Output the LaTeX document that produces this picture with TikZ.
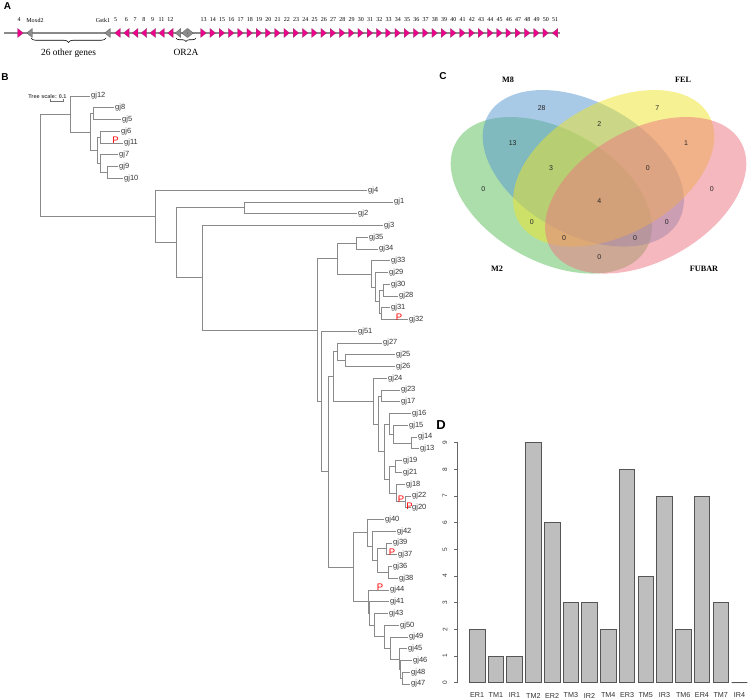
\documentclass[tikz,border=0pt]{standalone}
\usepackage{fontspec}
\setmainfont{Liberation Serif}
\setsansfont{Liberation Sans}
\usetikzlibrary{calc,decorations.pathreplacing}
\definecolor{brgrey}{HTML}{8A8A8A}
\definecolor{labgrey}{HTML}{333333}
\definecolor{vblue}{RGB}{85,151,209}
\definecolor{vyellow}{RGB}{238,228,40}
\definecolor{vgreen}{RGB}{90,190,90}
\definecolor{vpink}{RGB}{238,115,128}
\definecolor{barfill}{HTML}{BEBEBE}
\definecolor{bardraw}{HTML}{555555}
\newcommand\fsz[1]{\fontsize{#1}{#1}\selectfont}
\newcommand\tn[4]{%
  \path (#3.center) -- (#4.center) coordinate[pos=0.5] (#1h);
  \coordinate (#1x) at (#2,0);
  \coordinate (#1) at (#1h -| #1x);
  \draw[br] (#3) -- (#3 -| #1) -- (#4 -| #1) -- (#4);}
\newcommand\lf[3]{\node[leaf] (#1) at (#2,{96+11.76*#3}) {#1};}
\newcommand\trR[2]{\filldraw[#2] (#1-2.8,28.5) -- (#1+2.8,33) -- (#1-2.8,37.5) -- cycle;}
\newcommand\trL[2]{\filldraw[#2] (#1+2.8,28.5) -- (#1-2.8,33) -- (#1+2.8,37.5) -- cycle;}
\begin{document}
\begin{tikzpicture}[x=1pt,y=-1pt,
  br/.style={draw=brgrey,line width=0.6pt},
  leaf/.style={anchor=west,inner sep=1pt,font=\sffamily\fsz{7.5},text=labgrey},
  pm/.style={text=red,font=\sffamily\fsz{9.5},inner sep=0pt},
  plab/.style={font=\sffamily\bfseries\fsz{10},inner sep=0pt},
  gl/.style={font=\fsz{6},inner sep=0pt},
  mag/.style={fill=magenta,draw=magenta!55!black,line width=0.3pt},
  gry/.style={fill=black!45,draw=black!65,line width=0.3pt},
  vlab/.style={font=\bfseries\fsz{8.2},inner sep=0pt},
  vn/.style={font=\sffamily\fsz{7},text=black!85,inner sep=0pt},
  barst/.style={fill=barfill,draw=bardraw,line width=0.7pt},
  ax/.style={draw=black!60,line width=0.6pt},
  yl/.style={font=\sffamily\fsz{6.5},text=labgrey,inner sep=0pt},
  bl/.style={font=\sffamily\fsz{7.2},text=labgrey,inner sep=0pt}]
\fill[white] (0,0) rectangle (748,700);
\useasboundingbox (0,0) rectangle (748,700);

% ---------------- Panel A ----------------
\node[plab] (labA) at (7.5,6.5) {A};
\draw[draw=brgrey,line width=1.2pt] (4,33) -- (560,33);
\trR{20.5}{mag}
\trL{29.5}{gry}
\trL{107.5}{gry}
\foreach \c in {117.5,126.3,135.1,143.9,152.7,161.5,170.3} {\trL{\c}{mag}}
\trL{178}{gry}
\trL{184.5}{gry}
\trR{190.5}{gry}
\foreach \n in {13,...,50} {
  \pgfmathsetmacro\cx{203.5+9.25*(\n-13)}
  \trR{\cx}{mag}
  \node[gl] (g\n) at (\cx,20) {\n};
}
\trL{555}{mag}
\node[gl] (g51) at (555,20) {51};
\node[gl] (g4) at (19,20) {4};
\node[gl] (gmox) at (35,20) {Moxd2};
\node[gl] (ggst) at (103,20) {Gstk1};
\node[gl] (g5) at (115.5,20) {5};
\node[gl] (g6) at (126.3,20) {6};
\node[gl] (g7) at (135.1,20) {7};
\node[gl] (g8) at (143.9,20) {8};
\node[gl] (g9) at (152.7,20) {9};
\node[gl] (g11) at (161.5,20) {11};
\node[gl] (g12) at (170.3,20) {12};
\draw[decorate,decoration={brace,mirror,amplitude=4.5pt},line width=0.6pt] (31,38) -- (106,38);
\node[font=\fsz{9.4},inner sep=0pt] (other) at (68.5,53) {26 other genes};
\draw[decorate,decoration={brace,mirror,amplitude=3.5pt},line width=0.6pt] (176,38) -- (196,38);
\node[font=\fsz{9.5},inner sep=0pt] (or2a) at (186,52) {OR2A};

% ---------------- Panel B ----------------
\node[plab] (labB) at (5,77) {B};
\node[font=\sffamily\bfseries\fsz{5.5},text=black!70,inner sep=0pt] (tscale) at (47.5,96.5) {Tree scale: 0.1};
\draw[draw=black!55,line width=0.5pt] (50,99.5) -- (50,101) -- (63,101) -- (63,99.5);

\lf{gj12}{90}{0}
\lf{gj8}{114}{1}
\lf{gj5}{121}{2}
\lf{gj6}{120}{3}
\lf{gj11}{123}{4}
\lf{gj7}{118}{5}
\lf{gj9}{118}{6}
\lf{gj10}{123}{7}
\lf{gj4}{367}{8}
\lf{gj1}{393}{9}
\lf{gj2}{357}{10}
\lf{gj3}{383}{11}
\lf{gj35}{368}{12}
\lf{gj34}{378}{13}
\lf{gj33}{390}{14}
\lf{gj29}{388}{15}
\lf{gj30}{390}{16}
\lf{gj28}{398}{17}
\lf{gj31}{390}{18}
\lf{gj32}{408}{19}
\lf{gj51}{357}{20}
\lf{gj27}{382}{21}
\lf{gj25}{395}{22}
\lf{gj26}{395}{23}
\lf{gj24}{387}{24}
\lf{gj23}{400}{25}
\lf{gj17}{400}{26}
\lf{gj16}{411}{27}
\lf{gj15}{408}{28}
\lf{gj14}{417}{29}
\lf{gj13}{419}{30}
\lf{gj19}{402}{31}
\lf{gj21}{402}{32}
\lf{gj18}{405}{33}
\lf{gj22}{411}{34}
\lf{gj20}{411}{35}
\lf{gj40}{384}{36}
\lf{gj42}{396}{37}
\lf{gj39}{392}{38}
\lf{gj37}{397}{39}
\lf{gj36}{392}{40}
\lf{gj38}{398}{41}
\lf{gj44}{389}{42}
\lf{gj41}{389}{43}
\lf{gj43}{388}{44}
\lf{gj50}{399}{45}
\lf{gj49}{408}{46}
\lf{gj45}{407}{47}
\lf{gj46}{412}{48}
\lf{gj48}{410}{49}
\lf{gj47}{410}{50}

\tn{A2}{93}{gj8}{gj5}
\tn{A4}{100}{gj6}{gj11}
\tn{A6}{107}{gj9}{gj10}
\tn{A5}{100}{gj7}{A6}
\tn{A3}{97}{A4}{A5}
\tn{A1}{90}{A2}{A3}
\tn{TA}{70}{gj12}{A1}
\tn{D1}{244}{gj1}{gj2}
\tn{G1}{356}{gj35}{gj34}
\tn{G5}{383}{gj30}{gj28}
\tn{G6}{381}{gj31}{gj32}
\tn{G4}{379}{G5}{G6}
\tn{G3}{375}{gj29}{G4}
\tn{G2}{371}{gj33}{G3}
\tn{G0}{337}{G1}{G2}
\tn{J2}{345}{gj25}{gj26}
\tn{J1}{337}{gj27}{J2}
\tn{J5}{381}{gj23}{gj17}
\tn{J10}{411}{gj14}{gj13}
\tn{J8}{393}{gj15}{J10}
\tn{J7}{389}{gj16}{J8}
\tn{J11}{395}{gj19}{gj21}
\tn{J13}{405}{gj22}{gj20}
\tn{J12}{396}{gj18}{J13}
\tn{J9}{389}{J11}{J12}
\tn{J6}{384}{J7}{J9}
\tn{J4}{378}{J5}{J6}
\tn{J3}{373}{gj24}{J4}
\tn{J0}{333}{J1}{J3}
\tn{L3}{386}{gj39}{gj37}
\tn{L4}{388}{gj36}{gj38}
\tn{L2}{377}{L3}{L4}
\tn{L1}{372}{gj42}{L2}
\tn{L0}{367}{gj40}{L1}
\tn{M7}{402}{gj48}{gj47}
\tn{M6}{400}{gj46}{M7}
\tn{M5}{399}{gj45}{M6}
\tn{M4}{390}{gj49}{M5}
\tn{M3}{384}{gj50}{M4}
\tn{M2}{374}{gj43}{M3}
\tn{M1}{369}{gj41}{M2}
\tn{M0}{368}{gj44}{M1}
\tn{K0}{353}{L0}{M0}
\tn{I0}{328}{J0}{K0}
\tn{H0}{321}{gj51}{I0}
\tn{F0}{317}{G0}{H0}
\tn{E0}{202}{gj3}{F0}
\tn{C0}{176}{D1}{E0}
\tn{B0}{155}{gj4}{C0}
\tn{R0}{40}{TA}{B0}

\node[pm] (p11) at (115.5,140.5) {P};
\node[pm] (p32) at (399,317) {P};
\node[pm] (p22) at (401,499) {P};
\node[pm] (p20) at (409.5,506) {P};
\node[pm] (p37) at (392,552) {P};
\node[pm] (p44) at (380,587) {P};

% ---------------- Panel C ----------------
\node[plab] (labC) at (443,76) {C};
\begin{scope}[fill opacity=0.5]
\fill[vgreen,shift={(551.3,195.3)},rotate=-29] (0,0) ellipse [x radius=109pt,y radius=66pt];
\fill[vblue,shift={(583.3,168.3)},rotate=-29] (0,0) ellipse [x radius=109pt,y radius=66pt];
\fill[vyellow,shift={(613.7,168.3)},rotate=29] (0,0) ellipse [x radius=109pt,y radius=66pt];
\fill[vpink,shift={(645.7,195.3)},rotate=29] (0,0) ellipse [x radius=109pt,y radius=66pt];
\end{scope}
\node[vlab] (m8) at (508,80) {M8};
\node[vlab] (fel) at (683,80) {FEL};
\node[vlab] (m2) at (497,269) {M2};
\node[vlab] (fubar) at (704,269) {FUBAR};
\node[vn] (v1) at (541.7,108.3) {28};
\node[vn] (v2) at (657.3,108.3) {7};
\node[vn] (v3) at (599.3,124.3) {2};
\node[vn] (v4) at (512.7,143.3) {13};
\node[vn] (v5) at (686,143.3) {1};
\node[vn] (v6) at (551,168.3) {3};
\node[vn] (v7) at (647.7,168.3) {0};
\node[vn] (v8) at (483.3,189.3) {0};
\node[vn] (v9) at (711.7,189.3) {0};
\node[vn] (v10) at (599.3,200.7) {4};
\node[vn] (v11) at (531.7,222.3) {0};
\node[vn] (v12) at (666.7,222.3) {0};
\node[vn] (v13) at (564,238.3) {0};
\node[vn] (v14) at (635,238.3) {0};
\node[vn] (v15) at (599.3,257.3) {0};

% ---------------- Panel D ----------------
\node[plab,font=\sffamily\bfseries\fsz{13}] (labD) at (441,425.5) {D};
\draw[ax] (457.5,442.7) -- (457.5,682.7);
\foreach \k in {0,...,9} {
  \draw[ax] (457.5,{682.7-26.667*\k}) -- (453.5,{682.7-26.667*\k});
  \node[yl,rotate=90] (yt\k) at (445,{682.7-26.667*\k}) {\k};
}
\foreach \i/\h/\lab in {0/2/ER1,1/1/TM1,2/1/IR1,3/9/TM2,4/6/ER2,5/3/TM3,6/3/IR2,7/2/TM4,8/8/ER3,9/4/TM5,10/7/IR3,11/2/TM6,12/7/ER4,13/3/TM7,14/0/IR4} {
  \pgfmathsetmacro\bx{469.3+18.74*\i}
  \draw[barst] (\bx,682.7) rectangle (\bx+15.6,{682.7-26.667*\h});
  \node[bl] (bl\i) at (\bx+7.8,695.5) {\lab};
}
\end{tikzpicture}
\end{document}
